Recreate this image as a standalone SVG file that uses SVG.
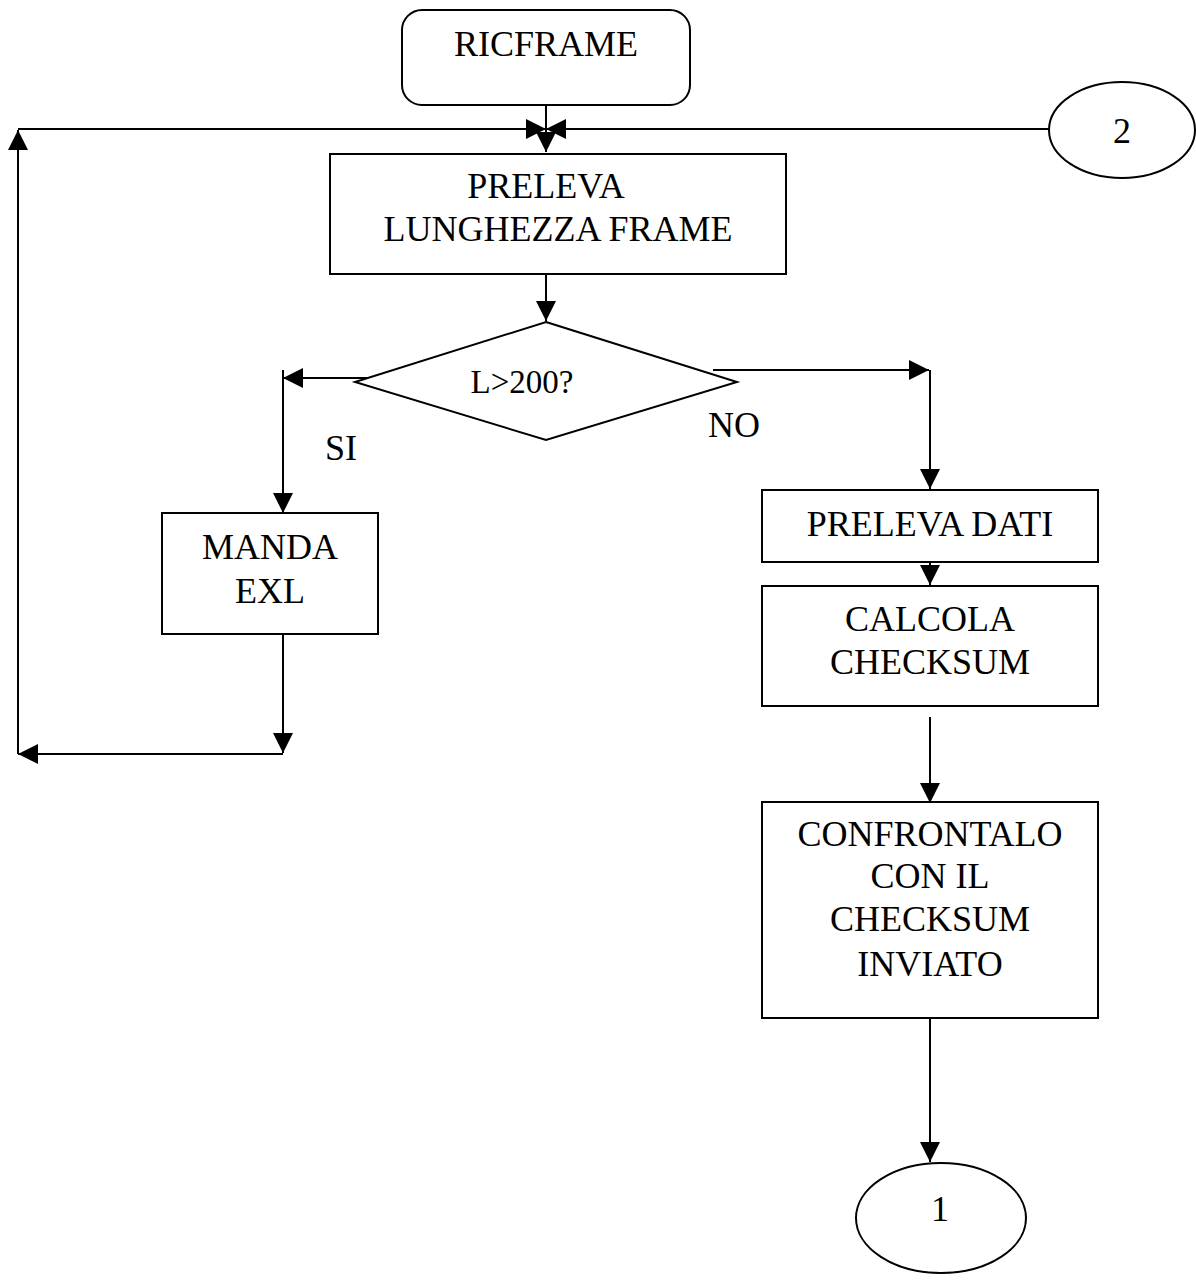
<svg xmlns="http://www.w3.org/2000/svg" width="1196" height="1282" viewBox="0 0 1196 1282">
<style>
.s{fill:#fff;stroke:#000;stroke-width:2}
.t{font-family:"Liberation Serif","Times New Roman",serif;font-size:36px;fill:#000;text-anchor:middle}
.c{fill:none;stroke:#000;stroke-width:2}
</style>
<defs>
<marker id="a" viewBox="0 0 20 20" refX="20" refY="10" markerWidth="20" markerHeight="20" markerUnits="userSpaceOnUse" orient="auto">
<path d="M0,0 L20,10 L0,20 Z" fill="#000"/>
</marker>
</defs>
<rect width="1196" height="1282" fill="#fff"/>
<g id="connectors">
<path class="c" d="M546,105 V152" marker-end="url(#a)"/>
<path class="c" d="M18,129 H546" marker-end="url(#a)"/>
<path class="c" d="M1049,129 H546" marker-end="url(#a)"/>
<path class="c" d="M546,274 V321" marker-end="url(#a)"/>
<path class="c" d="M377,378 H283" marker-end="url(#a)"/>
<path class="c" d="M283,370 V513" marker-end="url(#a)"/>
<path class="c" d="M713,370 H929" marker-end="url(#a)"/>
<path class="c" d="M930,370 V489" marker-end="url(#a)"/>
<path class="c" d="M930,562 V585" marker-end="url(#a)"/>
<path class="c" d="M930,717 V803" marker-end="url(#a)"/>
<path class="c" d="M930,1018 V1162" marker-end="url(#a)"/>
<path class="c" d="M283,634 V753" marker-end="url(#a)"/>
<path class="c" d="M283,754 H18" marker-end="url(#a)"/>
<path class="c" d="M18,754 V130" marker-end="url(#a)"/>
</g>
<g id="ricframe">
<rect class="s" x="402" y="10" width="288" height="95" rx="20"/>
<text class="t" x="546" y="56">RICFRAME</text>
</g>
<g id="conn2">
<ellipse class="s" cx="1122" cy="130" rx="73" ry="48"/>
<text class="t" x="1122" y="143">2</text>
</g>
<g id="preleva-lunghezza">
<rect class="s" x="330" y="154" width="456" height="120"/>
<text class="t" x="546" y="198">PRELEVA</text>
<text class="t" x="558" y="241">LUNGHEZZA FRAME</text>
</g>
<g id="decision">
<polygon class="s" points="546,322 737,382 546,440 355,382"/>
<text class="t" x="522" y="393" style="font-size:33px">L&gt;200?</text>
</g>
<text class="t" x="341" y="460">SI</text>
<text class="t" x="734" y="437">NO</text>
<g id="manda-exl">
<rect class="s" x="162" y="513" width="216" height="121"/>
<text class="t" x="270" y="559">MANDA</text>
<text class="t" x="270" y="603">EXL</text>
</g>
<g id="preleva-dati">
<rect class="s" x="762" y="490" width="336" height="72"/>
<text class="t" x="930" y="536">PRELEVA DATI</text>
</g>
<g id="calcola">
<rect class="s" x="762" y="586" width="336" height="120"/>
<text class="t" x="930" y="631">CALCOLA</text>
<text class="t" x="930" y="674">CHECKSUM</text>
</g>
<g id="confronta">
<rect class="s" x="762" y="802" width="336" height="216"/>
<text class="t" x="930" y="846">CONFRONTALO</text>
<text class="t" x="930" y="888">CON IL</text>
<text class="t" x="930" y="931">CHECKSUM</text>
<text class="t" x="930" y="976">INVIATO</text>
</g>
<g id="conn1">
<ellipse class="s" cx="941" cy="1218" rx="85" ry="55"/>
<text class="t" x="940" y="1221">1</text>
</g>
</svg>
